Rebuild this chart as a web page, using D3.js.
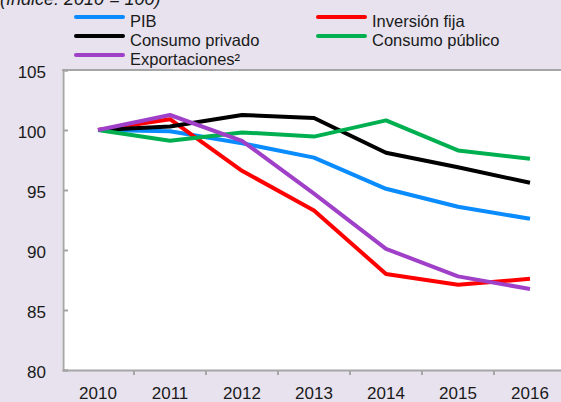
<!DOCTYPE html>
<html>
<head>
<meta charset="utf-8" />
<script src="https://d3js.org/d3.v7.min.js"></script>
<style>
body { margin: 0; background: #e7e2ee; font-family: "Liberation Sans", Arial, sans-serif; }
svg { display: block; }
.axis text { font-size: 17px; fill: #1a1a1a; font-family: "Liberation Sans", Arial, sans-serif; }
.legend text { font-size: 16.5px; fill: #1a1a1a; }
</style>
</head>
<body>
<div id="chart"></div>
<script>
const years = ["2010", "2011", "2012", "2013", "2014", "2015", "2016"];
const yTicks = [80, 85, 90, 95, 100, 105];

const pib        = [100, 99.9, 98.9, 97.7, 95.1, 93.6, 92.6];
const inversion  = [100, 100.9, 96.6, 93.3, 88.0, 87.1, 87.6];
const consPriv   = [100, 100.3, 101.25, 101.0, 98.1, 96.9, 95.6];
const consPub    = [100, 99.1, 99.8, 99.45, 100.8, 98.3, 97.6];
const exportac   = [100, 101.25, 99.1, 94.7, 90.1, 87.8, 86.75];

const series = [
  { name: "PIB", values: pib, color: "#0a8cff" },
  { name: "Inversión fija", values: inversion, color: "#ff0000" },
  { name: "Consumo privado", values: consPriv, color: "#000000" },
  { name: "Consumo público", values: consPub, color: "#00b050" },
  { name: "Exportaciones²", values: exportac, color: "#a040c8" }
];

const W = 561, H = 402;
const svg = d3.select("#chart").append("svg")
  .attr("width", W).attr("height", H);

// subtitle, cut off at the top as in the source
svg.append("text")
  .attr("x", 0).attr("y", 5)
  .style("font-size", "18px").style("font-style", "italic").style("fill", "#1a1a1a")
  .text("(índice: 2010 = 100)");

const x = d3.scaleBand().domain(years).range([62, 566]).padding(0);
const y = d3.scaleLinear().domain([80, 105]).range([370, 70]);

// plot area
svg.append("rect")
  .attr("x", 62).attr("y", 70)
  .attr("width", 566 - 62).attr("height", 300)
  .attr("fill", "#fff");
svg.append("line")
  .attr("x1", 62).attr("x2", 566).attr("y1", 70).attr("y2", 70)
  .attr("stroke", "#a6a6a6").attr("stroke-width", 2);

// y axis
const yAxis = svg.append("g").attr("class", "axis")
  .attr("transform", "translate(63,0)")
  .call(d3.axisLeft(y).tickValues(yTicks).tickSize(-5).tickPadding(17));
yAxis.select(".domain").attr("stroke", "#a6a6a6").attr("stroke-width", 2);
yAxis.selectAll(".tick line").attr("stroke", "#a6a6a6").attr("stroke-width", 2);
yAxis.selectAll(".tick text").attr("dy", "0.45em");

// x axis
const xAxis = svg.append("g").attr("class", "axis")
  .attr("transform", "translate(0,370)")
  .call(d3.axisBottom(x).tickSize(0));
xAxis.select(".domain").attr("stroke", "#a6a6a6").attr("stroke-width", 2);
xAxis.selectAll(".tick text").attr("dy", "0.71em").attr("y", 17);
svg.append("g").selectAll("line")
  .data(years.slice(1))
  .join("line")
  .attr("x1", d => x(d)).attr("x2", d => x(d))
  .attr("y1", 370).attr("y2", 375)
  .attr("stroke", "#a6a6a6").attr("stroke-width", 2);

// lines
const line = d3.line()
  .x((d, i) => x(years[i]) + x.bandwidth() / 2)
  .y(d => y(d));

svg.append("g").selectAll("path")
  .data(series)
  .join("path")
  .attr("d", d => line(d.values))
  .attr("fill", "none")
  .attr("stroke", d => d.color)
  .attr("stroke-width", 4)
  .attr("stroke-linejoin", "round");

// legend
const legendPos = [
  { x: 76, y: 17 }, { x: 318, y: 17 },
  { x: 76, y: 36 }, { x: 318, y: 36 },
  { x: 76, y: 55 }
];
const legend = svg.append("g").attr("class", "legend")
  .selectAll("g")
  .data(series)
  .join("g")
  .attr("transform", (d, i) => `translate(${legendPos[i].x},${legendPos[i].y})`);
legend.append("line")
  .attr("x1", 0).attr("x2", 47)
  .attr("stroke", d => d.color)
  .attr("stroke-width", 4)
  .attr("stroke-linecap", "round");
legend.append("text")
  .attr("x", 54).attr("y", 9.5)
  .text(d => d.name);
</script>
</body>
</html>
